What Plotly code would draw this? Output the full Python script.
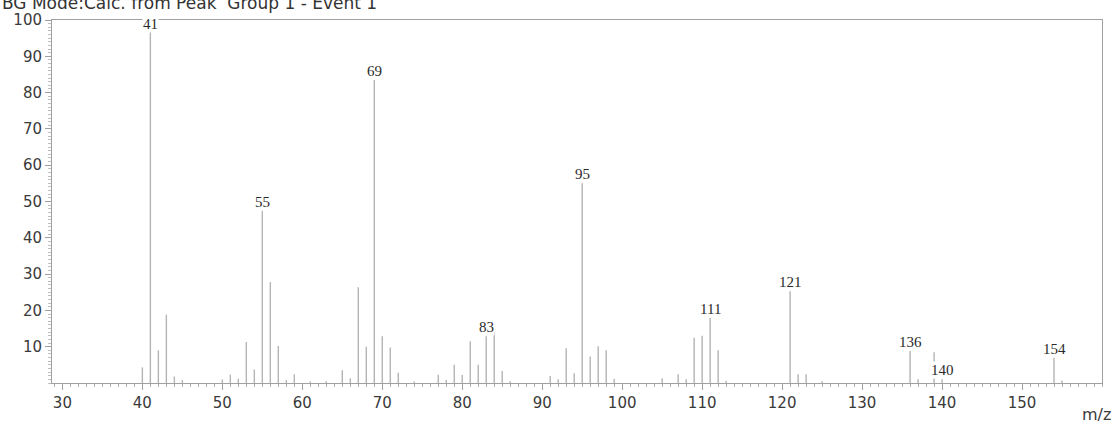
import plotly.graph_objects as go

# Mass spectrum: m/z values and relative intensities (%)
mz = [40, 41, 42, 43, 44, 45, 50, 51, 52, 53, 54, 55, 56, 57, 58, 59, 61, 63,
      65, 66, 67, 68, 69, 70, 71, 72, 74, 77, 78, 79, 80, 81, 82, 83, 84, 85,
      86, 91, 92, 93, 94, 95, 96, 97, 98, 99, 105, 107, 108, 109, 110, 111,
      112, 113, 121, 122, 123, 125, 136, 137, 139, 140, 154, 155]
intensity = [4.3, 100, 9.0, 18.8, 1.8, 0.8, 1.0, 2.3, 1.2, 11.3, 3.7, 47.5,
             27.8, 10.2, 0.8, 2.4, 0.4, 0.5, 3.5, 1.3, 26.4, 10.0, 83.5, 12.9,
             9.8, 2.8, 0.4, 2.3, 0.8, 5.0, 2.2, 11.5, 5.0, 12.9, 13.9, 3.3,
             0.5, 1.9, 1.0, 9.6, 2.7, 55.0, 7.3, 10.1, 9.0, 1.2, 1.3, 2.4, 1.0,
             12.5, 13.0, 17.9, 9.0, 0.6, 25.3, 2.4, 2.4, 0.5, 8.9, 1.0, 8.5,
             1.0, 7.0, 0.7]

# Peaks carrying an m/z label
labeled_peaks = [41, 55, 69, 83, 95, 111, 121, 136, 140, 154]

y_ticks = [10, 20, 30, 40, 50, 60, 70, 80, 90, 100]
x_ticks = [30, 40, 50, 60, 70, 80, 90, 100, 110, 120, 130, 140, 150]

title_text = "BG Mode:Calc. from Peak  Group 1 - Event 1"

# Build stick lines: one vertical segment per peak
xs, ys = [], []
for m, v in zip(mz, intensity):
    xs += [m, m, None]
    ys += [0, v, None]

fig = go.Figure()
fig.add_trace(go.Scatter(
    x=xs, y=ys, mode="lines",
    line=dict(color="#b4b4b4", width=1.4),
    hoverinfo="skip", showlegend=False,
))

lookup = dict(zip(mz, intensity))
for m in labeled_peaks:
    v = lookup[m]
    # labels of full-scale peaks are pulled inside the frame
    fig.add_annotation(
        x=m, y=min(v, 96.5), xref="x", yref="y",
        text=str(m), showarrow=False, yanchor="bottom",
        font=dict(family="Liberation Serif", size=15, color="#2a2a2a"),
        bgcolor="white", borderpad=0,
    )

axis_font = dict(family="DejaVu Sans", size=15, color="#3a3a3a")

fig.add_annotation(
    text=title_text, xref="paper", yref="paper",
    x=0, y=1, xanchor="left", yanchor="bottom",
    xshift=-52, yshift=5, showarrow=False,
    font=dict(family="DejaVu Sans", size=17, color="#333333"),
)
fig.add_annotation(
    text="m/z", xref="paper", yref="paper",
    x=1, y=0, xanchor="right", yanchor="top",
    xshift=11, yshift=-20, showarrow=False,
    font=dict(family="DejaVu Sans", size=16, color="#3a3a3a"),
)

fig.update_xaxes(
    range=[28.7, 160], tickvals=x_ticks, ticks="outside", ticklen=6,
    tickcolor="#a0a0a0", showline=True, linecolor="#a0a0a0", linewidth=1,
    mirror=True, showgrid=False, zeroline=False, tickfont=axis_font,
    minor=dict(dtick=1, ticks="outside", ticklen=3, tickcolor="#b0b0b0",
               showgrid=False),
)
fig.update_yaxes(
    range=[0, 100], tickvals=y_ticks, ticks="outside", ticklen=6,
    tickcolor="#a0a0a0", showline=True, linecolor="#a0a0a0", linewidth=1,
    mirror=True, showgrid=False, zeroline=False, tickfont=axis_font,
    minor=dict(dtick=1, ticks="outside", ticklen=3, tickcolor="#c0c0c0",
               showgrid=False),
)

fig.update_layout(
    width=1114, height=423,
    margin=dict(l=52, r=11, t=16, b=39),
    paper_bgcolor="white", plot_bgcolor="white",
)

fig.write_html("out.html")
